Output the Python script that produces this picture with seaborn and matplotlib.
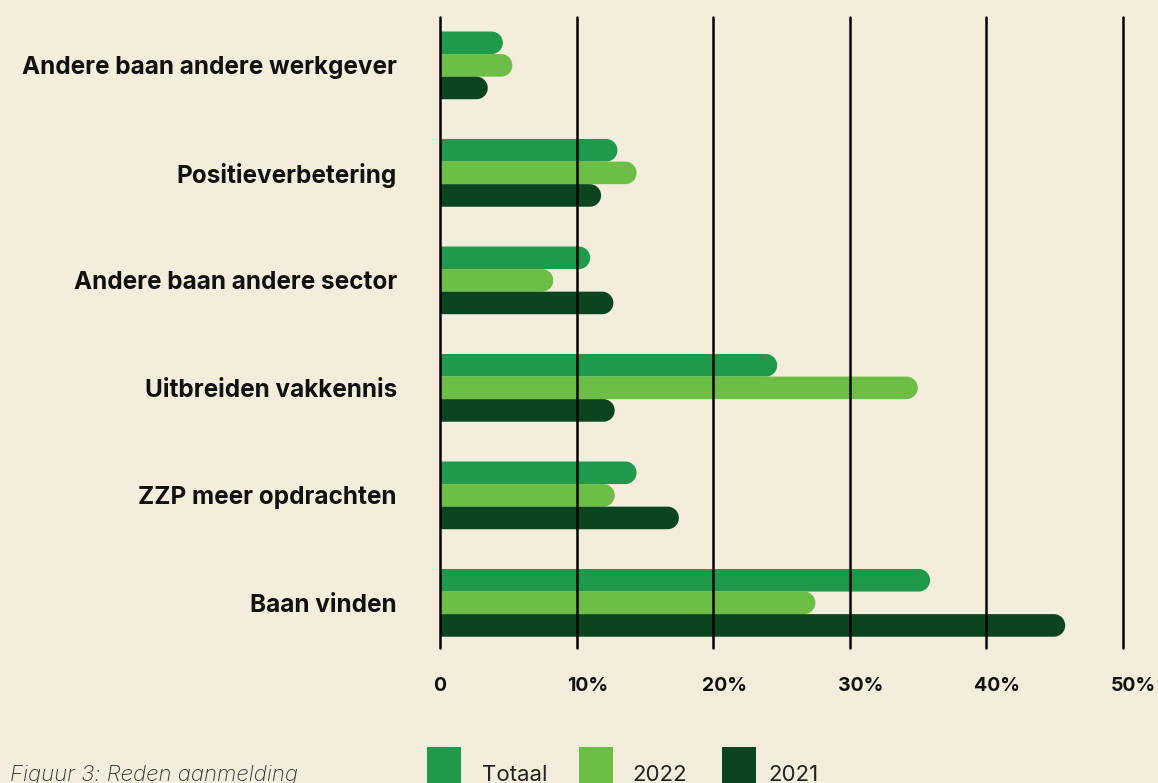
import numpy as np
import pandas as pd
import matplotlib.pyplot as plt
import seaborn as sns
from matplotlib.patches import Polygon, Rectangle
from matplotlib.transforms import ScaledTranslation

# data (percentages)
redenen = [
    "Andere baan andere werkgever",
    "Positieverbetering",
    "Andere baan andere sector",
    "Uitbreiden vakkennis",
    "ZZP meer opdrachten",
    "Baan vinden",
]
totaal = [4.6, 13.0, 11.0, 24.7, 14.4, 35.9]
jaar_2022 = [5.3, 14.4, 8.3, 35.0, 12.8, 27.5]
jaar_2021 = [3.5, 11.8, 12.7, 12.8, 17.5, 45.8]
reeksen = ["Totaal", "2022", "2021"]
kleuren = ["#1E9A4A", "#6DBE45", "#0B4520"]
x_ticks = [0, 10, 20, 30, 40, 50]
x_labels = ["0", "10%", "20%", "30%", "40%", "50%"]
bijschrift = "Figuur 3: Reden aanmelding"

bg = "#F3EEDC"
W, H = 1158, 783

df = pd.DataFrame({
    "reden": redenen * 3,
    "waarde": totaal + jaar_2022 + jaar_2021,
    "reeks": [r for r in reeksen for _ in redenen],
})

sns.set_theme(style="white")
plt.rcParams["font.family"] = ["Inter", "DejaVu Sans"]

fig = plt.figure(figsize=(W / 100, H / 100), dpi=100, facecolor=bg)
ax = fig.add_axes([440 / W, 1 - 648 / H, (W - 440) / W, 631 / H])
ax.set_facecolor(bg)

sns.barplot(data=df, y="reden", x="waarde", hue="reeks", orient="h",
            palette=kleuren, saturation=1, width=0.63, legend=False, ax=ax)

ax.set_xlim(0, 52.6)
ax.set_ylim(5.42, -0.45)

# swap the square bars for bars with a half-round right end
px_x = (W - 440) / 52.6          # pixels per percent
px_y = 631 / (5.42 + 0.45)       # pixels per category step
t = np.linspace(-np.pi / 2, np.pi / 2, 40)
for bar in list(ax.patches):
    x0, y0 = bar.get_x(), bar.get_y()
    w, h = bar.get_width(), bar.get_height()
    color = bar.get_facecolor()
    bar.remove()
    ry = h / 2
    rx = ry * px_y / px_x
    yc = y0 + ry
    xc = x0 + w - rx
    arc = np.column_stack([xc + rx * np.cos(t), yc + ry * np.sin(t)])
    verts = np.vstack([[x0 - 1, y0], arc[:1] * [0, 1] + [xc, 0], arc,
                       [x0 - 1, y0 + h]])
    ax.add_patch(Polygon(verts, closed=True, fc=color, ec="none", zorder=1))

ax.set_xticks(x_ticks, x_labels)
ax.grid(axis="x", color="black", lw=1.8)
ax.grid(axis="y", visible=False)
ax.set_axisbelow(False)
for line in ax.get_xgridlines():
    line.set_clip_on(False)
for s in ax.spines.values():
    s.set_visible(False)

ax.tick_params(axis="x", length=0, pad=21, labelsize=14, labelcolor="#111111")
ax.tick_params(axis="y", length=0, pad=31, labelsize=17.5, labelcolor="#111111")
for lab in ax.get_xticklabels() + ax.get_yticklabels():
    lab.set_fontweight("bold")
# the number sits on the gridline, the % sign hangs to the right
for lab in ax.get_xticklabels():
    if lab.get_text().endswith("%"):
        lab.set_transform(lab.get_transform() + ScaledTranslation(11 / 100, 0, fig.dpi_scale_trans))
ax.set_xlabel("")
ax.set_ylabel("")

# legend along the bottom edge
key_x = [427, 579, 722]
text_x = [482, 632, 768]
for kx, tx, lab, col in zip(key_x, text_x, reeksen, kleuren):
    fig.add_artist(Rectangle((kx / W, 0), 34 / W, 36 / H, transform=fig.transFigure,
                             fc=col, ec="none"))
    fig.text(tx / W, 2 / H, lab, fontsize=16, color="#222222", va="baseline")

fig.text(10 / W, 2 / H, bijschrift, fontsize=16, style="italic",
         fontweight="light", color="#333333", va="baseline")

fig.savefig("out.png", dpi=100, facecolor=bg)
